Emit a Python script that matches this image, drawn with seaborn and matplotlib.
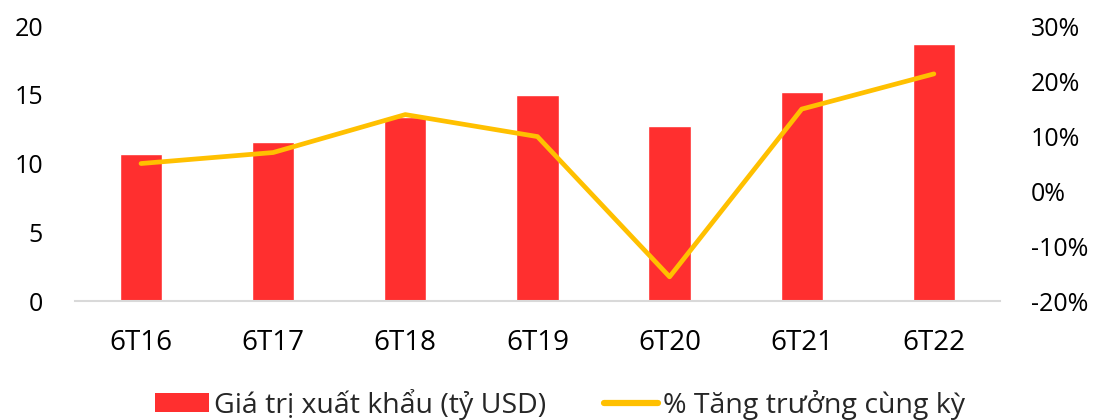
import matplotlib
matplotlib.use("Agg")
from matplotlib import pyplot as plt
from matplotlib.ticker import PercentFormatter
from matplotlib.patches import Patch
from matplotlib.lines import Line2D
import seaborn as sns

# du lieu doc tu bieu do goc
periods = ["6T16", "6T17", "6T18", "6T19", "6T20", "6T21", "6T22"]
export_value = [10.7, 11.6, 13.4, 15.0, 12.7, 15.2, 18.7]   # ty USD
growth_pct = [5.0, 7.0, 13.9, 9.9, -15.6, 14.9, 21.3]     # %

bar_color = "#FF2F2F"
line_color = "#FFC000"

sns.set_theme(style="white")
plt.rcParams["font.family"] = ["Open Sans", "DejaVu Sans"]
plt.rcParams["axes.unicode_minus"] = False

fig = plt.figure(figsize=(11.02, 4.2), dpi=100)
ax = fig.add_axes([0.068, 0.2833, 0.8394, 0.6547])

sns.barplot(x=periods, y=export_value, color=bar_color, width=0.32,
            saturation=1, ax=ax)
ax.set_ylim(0, 20)
ax.set_yticks([0, 5, 10, 15, 20])
ax.set_xlim(-0.5, 6.5)

ax2 = ax.twinx()
sns.pointplot(x=periods, y=growth_pct, color=line_color, markers="",
              linewidth=3.4, ax=ax2)
for ln in ax2.lines:
    ln.set_solid_capstyle("round")
    ln.set_solid_joinstyle("round")
ax2.set_ylim(-20, 30)
ax2.set_yticks([-20, -10, 0, 10, 20, 30])
ax2.yaxis.set_major_formatter(PercentFormatter(decimals=0))
ax2.set_xlim(-0.5, 6.5)

for a in (ax, ax2):
    for s in ["top", "left", "right", "bottom"]:
        a.spines[s].set_visible(False)
    a.set_xlabel("")
    a.set_ylabel("")
    a.grid(False)
ax.spines["bottom"].set_visible(True)
ax.spines["bottom"].set_color("#D9D9D9")
ax.spines["bottom"].set_linewidth(1.5)

ax.tick_params(axis="x", length=0, pad=20, labelsize=20, labelcolor="#000000")
ax.tick_params(axis="y", length=0, pad=23, labelsize=18, labelcolor="#000000")
ax2.tick_params(axis="y", length=0, pad=22, labelsize=18, labelcolor="#000000")

handles = [
    Patch(facecolor=bar_color, edgecolor="none", label="Giá trị xuất khẩu (tỷ USD)"),
    Line2D([0], [0], color=line_color, lw=4.5, solid_capstyle="round",
           label="% Tăng trưởng cùng kỳ"),
]
fig.legend(handles=handles, loc="center", bbox_to_anchor=(560 / 1102, 16 / 420),
           ncol=2, frameon=False, fontsize=20.5, handlelength=1.9,
           handleheight=0.6, handletextpad=0.2, columnspacing=2.0,
           borderpad=0.2)

fig.savefig("out.png", dpi=100)
